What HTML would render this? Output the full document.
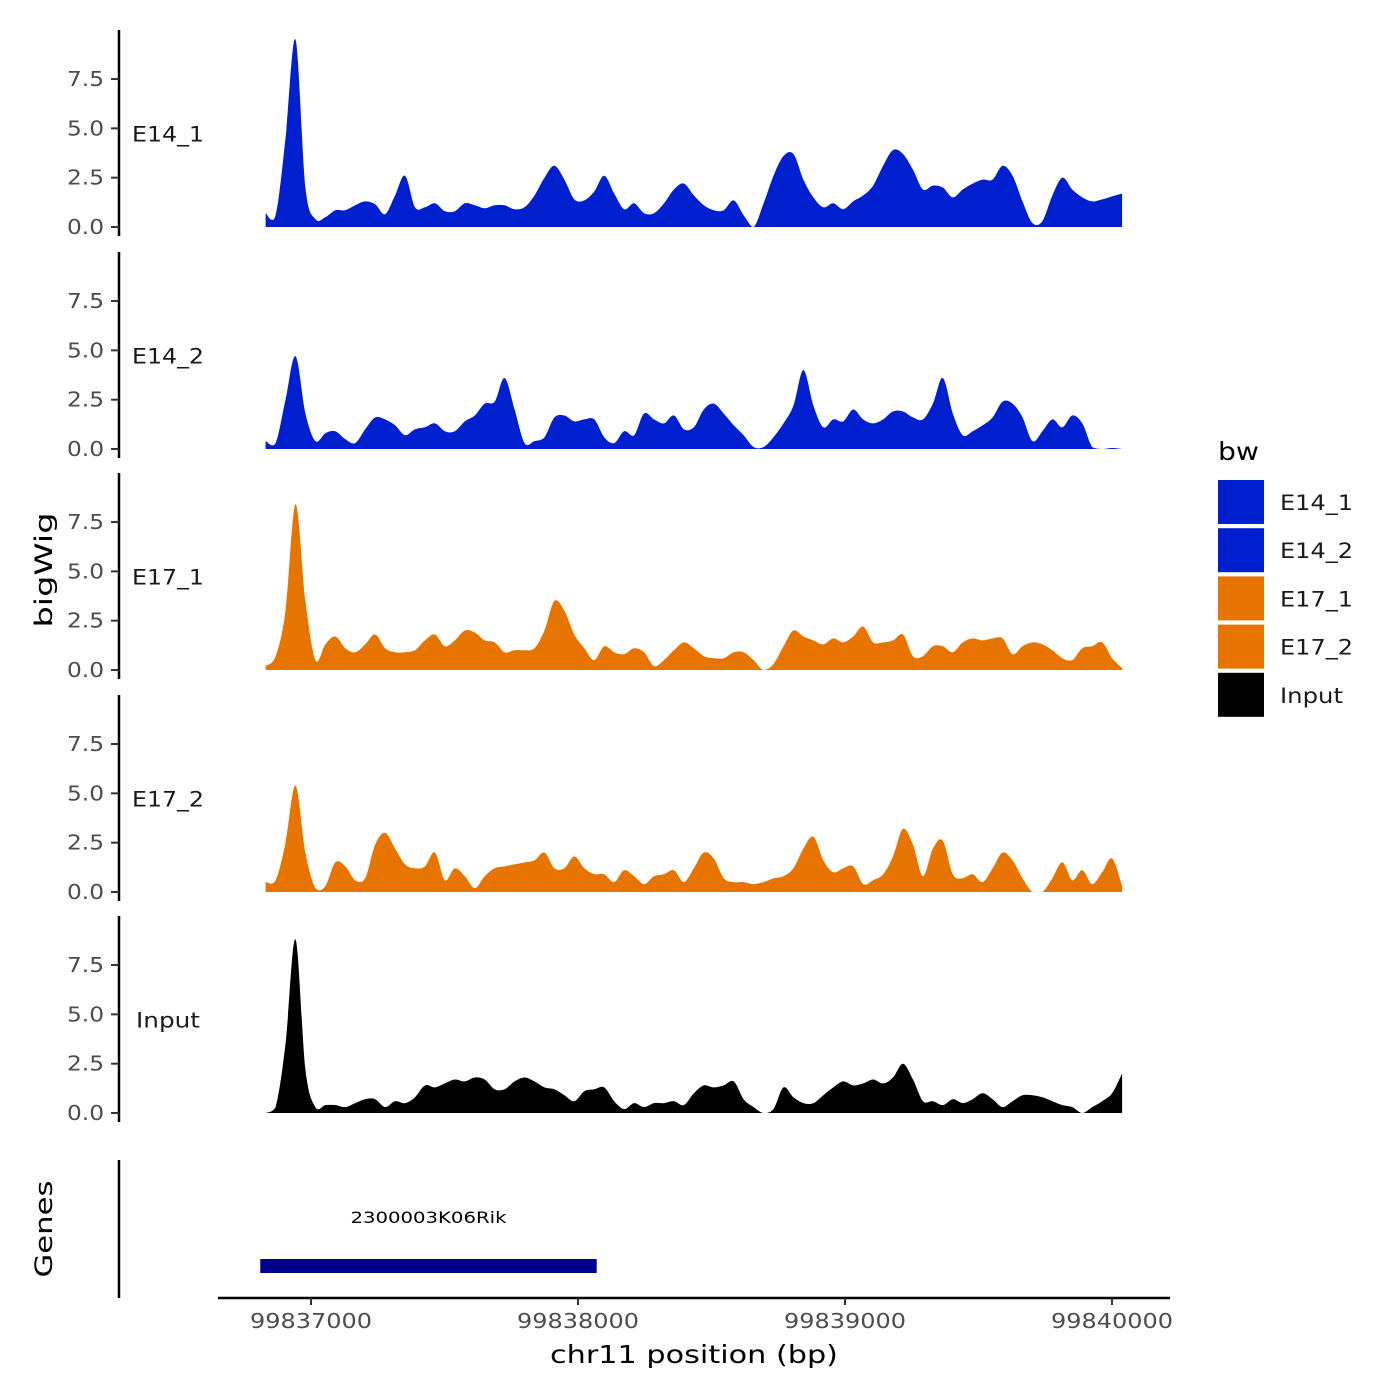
<!DOCTYPE html>
<html><head><meta charset="utf-8"><style>
html,body{margin:0;padding:0;background:#fff;}
svg{display:block;font-family:"DejaVu Sans","Liberation Sans",sans-serif;}
</style></head><body>
<svg id="chart" width="1400" height="1400" viewBox="0 0 1400 1400" xmlns="http://www.w3.org/2000/svg"></svg>
<script>
// ---- data ----
const trackNames = ["E14_1","E14_2","E17_1","E17_2","Input"];
const trackColors = ["#0020d0","#0020d0","#e87400","#e87400","#000000"];
const startBp = 99836830;
const stepBp = 37.3;
const yTicks = [0, 2.5, 5, 7.5];
const yTickLabels = ["0.0","2.5","5.0","7.5"];
const xTicks = [99837000, 99838000, 99839000, 99840000];
const xTickLabels = ["99837000","99838000","99839000","99840000"];
const geneName = "2300003K06Rik";
const geneStart = 99836810;
const geneEnd = 99838070;

const e14_1 = [0.7,0.6,4.5,9.5,2.0,0.4,0.5,0.85,0.85,1.1,1.3,1.15,0.65,1.6,2.6,1.0,1.0,1.2,0.8,0.8,1.2,1.1,0.95,1.1,1.1,0.9,1.0,1.6,2.5,3.1,2.4,1.4,1.35,1.8,2.6,1.7,0.9,1.2,0.7,0.7,1.2,1.9,2.2,1.6,1.1,0.85,0.85,1.35,0.6,0,1.2,2.6,3.6,3.7,2.4,1.5,1.0,1.2,0.9,1.3,1.6,2.1,3.1,3.9,3.7,2.9,1.9,2.1,2.0,1.5,1.9,2.2,2.4,2.4,3.1,2.6,1.3,0.2,0.3,1.6,2.5,1.9,1.5,1.3,1.4,1.55,1.7];
const e14_2 = [0.4,0.3,2.5,4.7,1.8,0.4,0.8,0.9,0.5,0.3,1.0,1.6,1.5,1.2,0.7,1.0,1.1,1.3,0.9,0.9,1.4,1.7,2.3,2.4,3.6,2.0,0.3,0.4,0.6,1.6,1.7,1.4,1.5,1.5,0.6,0.3,0.9,0.7,1.8,1.5,1.3,1.7,1.0,1.1,2.0,2.3,1.8,1.2,0.7,0.1,0.1,0.6,1.3,2.2,4.0,2.2,1.1,1.5,1.4,2.0,1.5,1.3,1.5,1.9,1.9,1.6,1.5,2.3,3.6,1.8,0.7,0.9,1.2,1.6,2.4,2.3,1.6,0.4,0.9,1.5,1.1,1.7,1.3,0.1,0,0.05,0];
const e17_1 = [0.2,0.7,3.0,8.4,3.5,0.5,1.3,1.7,1.1,0.9,1.3,1.8,1.1,0.9,0.9,1.0,1.5,1.8,1.2,1.5,2.0,1.9,1.5,1.4,0.9,1.0,1.0,1.1,2.0,3.5,3.0,1.8,1.1,0.5,1.2,0.9,0.8,1.1,0.9,0.2,0.5,1.0,1.4,1.1,0.7,0.6,0.6,0.9,0.9,0.5,0,0.3,1.2,2.0,1.7,1.5,1.3,1.6,1.4,1.7,2.2,1.4,1.4,1.5,1.8,0.7,0.7,1.2,1.2,0.9,1.4,1.6,1.5,1.6,1.6,0.8,1.2,1.4,1.3,1.0,0.6,0.5,1.1,1.2,1.4,0.6,0.1];
const e17_2 = [0.5,0.6,2.5,5.4,2.0,0.2,0.3,1.5,1.3,0.6,0.7,2.4,3.0,2.2,1.4,1.2,1.3,2.0,0.6,1.2,0.8,0.2,0.8,1.2,1.3,1.4,1.5,1.6,2.0,1.2,1.2,1.8,1.2,0.9,0.9,0.5,1.1,0.8,0.4,0.8,0.9,1.1,0.5,1.2,2.0,1.7,0.7,0.5,0.5,0.4,0.5,0.7,0.8,1.2,2.2,2.8,1.6,1.0,1.2,1.3,0.4,0.6,0.9,1.8,3.2,2.4,0.8,2.2,2.6,0.9,0.7,0.9,0.5,1.2,2.0,1.6,0.7,0,0,0.7,1.5,0.6,1.1,0.4,1.0,1.7,0.3];
const input = [0,0.3,3.5,8.8,2.2,0.3,0.4,0.4,0.3,0.5,0.7,0.7,0.3,0.6,0.5,0.8,1.4,1.3,1.5,1.7,1.6,1.8,1.7,1.2,1.2,1.6,1.8,1.6,1.3,1.2,0.9,0.6,1.1,1.2,1.3,0.6,0.2,0.5,0.3,0.5,0.5,0.6,0.4,1.0,1.4,1.3,1.4,1.6,0.7,0.3,0,0.2,1.3,0.8,0.5,0.5,0.9,1.3,1.6,1.4,1.5,1.7,1.5,1.8,2.5,1.7,0.6,0.6,0.4,0.7,0.5,0.7,1.0,0.7,0.3,0.6,0.9,0.9,0.8,0.6,0.4,0.3,0,0.3,0.6,1.0,2.0];
const trackValues = [e14_1, e14_2, e17_1, e17_2, input];

// ---- scales ----
const NS = "http://www.w3.org/2000/svg";
const svg = document.getElementById("chart");
function xScale(bp){ return 311 + (bp - 99837000) * 0.267; }
const baselines = [227, 449, 670, 892, 1113];
const unitPx = 19.73;
function yScale(t, v){ return baselines[t] - v * unitPx; }
function el(tag, attrs, parent){
  const e = document.createElementNS(NS, tag);
  for (const k in attrs) e.setAttribute(k, attrs[k]);
  (parent || svg).appendChild(e);
  return e;
}

trackValues.forEach((vals, t) => {
  const g = el("g", {});
  
  
  const ax = el("line", {x1:119, x2:119, y1:baselines[t]-197, y2:baselines[t]+9, stroke:"#000", "stroke-width":2.5}, g);
  
  
  yTicks.forEach((tv, i) => {
    const y = yScale(t, tv);
    const tk = el("line", {x1:111, x2:119, y1:y, y2:y, stroke:"#333", "stroke-width":2}, g);
    
    
    const tl = el("text", {x:104, y:y+7, "text-anchor":"end", "font-size":20, fill:"#4d4d4d", textLength:37, lengthAdjust:"spacingAndGlyphs"}, g);
    tl.textContent = yTickLabels[i];
    
    
  });
  const lab = el("text", {x:132, y:yScale(t,5)+13, "font-size":21, fill:"#1a1a1a", textLength:(t===4?64:72), lengthAdjust:"spacingAndGlyphs"}, g);
  if (t===4) lab.setAttribute("x", 136);
  lab.textContent = trackNames[t];
  
  
  const pts = vals.map((v, i) => [xScale(startBp + i * stepBp), yScale(t, v)]);
  const base = baselines[t];
  let d = "M" + pts[0][0].toFixed(1) + "," + base + " L" + pts[0][0].toFixed(1) + "," + pts[0][1].toFixed(1);
  for (let i = 0; i < pts.length - 1; i++) {
    const p0 = pts[Math.max(0,i-1)], p1 = pts[i], p2 = pts[i+1], p3 = pts[Math.min(pts.length-1,i+2)];
    let c1y = p1[1] + (p2[1]-p0[1])/6, c2y = p2[1] - (p3[1]-p1[1])/6;
    c1y = Math.min(c1y, base); c2y = Math.min(c2y, base);
    d += " C" + (p1[0]+(p2[0]-p0[0])/6).toFixed(1) + "," + c1y.toFixed(1) + " " + (p2[0]-(p3[0]-p1[0])/6).toFixed(1) + "," + c2y.toFixed(1) + " " + p2[0].toFixed(1) + "," + p2[1].toFixed(1);
  }
  d += " L" + pts[pts.length-1][0].toFixed(1) + "," + base + " Z";
  const area = el("path", {d:d, fill:trackColors[t]}, g);
  
  
});

const yt = el("text", {x:0, y:0, transform:"translate(52,570) rotate(-90)", "text-anchor":"middle", "font-size":24, fill:"#000", textLength:115, lengthAdjust:"spacingAndGlyphs"});
yt.textContent = "bigWig";



const gax = el("line", {x1:119, x2:119, y1:1160, y2:1298, stroke:"#000", "stroke-width":2.5});


const gt = el("text", {x:0, y:0, transform:"translate(52,1229) rotate(-90)", "text-anchor":"middle", "font-size":24, fill:"#000", textLength:97, lengthAdjust:"spacingAndGlyphs"});
gt.textContent = "Genes";


const gb = el("rect", {x:xScale(geneStart), y:1259, width:xScale(geneEnd)-xScale(geneStart), height:14, fill:"#00008b"});


const gl = el("text", {x:(xScale(geneStart)+xScale(geneEnd))/2, y:1223, "text-anchor":"middle", "font-size":16, fill:"#000", textLength:156, lengthAdjust:"spacingAndGlyphs"});
gl.textContent = geneName;



const xa = el("line", {x1:218, x2:1170, y1:1298, y2:1298, stroke:"#000", "stroke-width":2.5});


xTicks.forEach((bp, i) => {
  const x = xScale(bp);
  const tk = el("line", {x1:x, x2:x, y1:1298, y2:1305, stroke:"#333", "stroke-width":2});
  
  
  const tl = el("text", {x:x, y:1328, "text-anchor":"middle", "font-size":20, fill:"#4d4d4d", textLength:122, lengthAdjust:"spacingAndGlyphs"});
  tl.textContent = xTickLabels[i];
  
  
});
const xt = el("text", {x:694, y:1363, "text-anchor":"middle", "font-size":25, fill:"#000", textLength:288, lengthAdjust:"spacingAndGlyphs"});
xt.textContent = "chr11 position (bp)";



const lg = el("g", {});


const lt = el("text", {x:1218, y:460, "font-size":25, fill:"#000", textLength:41, lengthAdjust:"spacingAndGlyphs"}, lg);
lt.textContent = "bw";


trackNames.forEach((n, i) => {
  const y = 480 + i * 48.2;
  const r = el("rect", {x:1218, y:y, width:46, height:44, fill:trackColors[i]}, lg);
  
  
  const tx = el("text", {x:1280, y:y+30, "font-size":21, fill:"#1a1a1a", textLength:(i===4?63:73), lengthAdjust:"spacingAndGlyphs"}, lg);
  tx.textContent = n;
  
  
});
</script>
</body></html>
